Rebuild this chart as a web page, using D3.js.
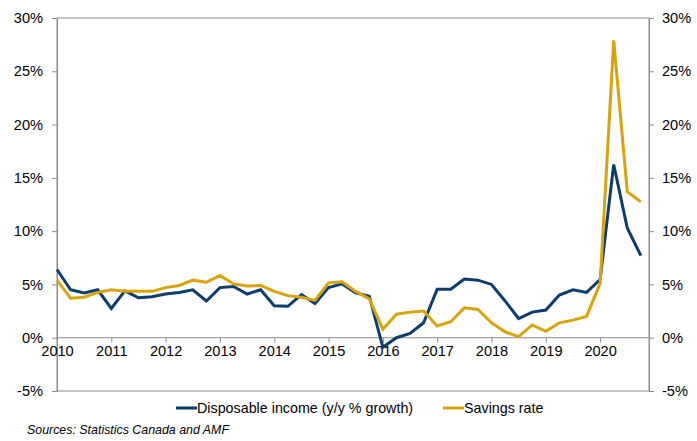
<!DOCTYPE html>
<html>
<head>
<meta charset="utf-8">
<script src="https://cdn.jsdelivr.net/npm/d3@7"></script>
<style>
  body { margin: 0; background: #fff; }
  svg text { font-family: "Liberation Sans", Arial, sans-serif; fill: #000; }
  .axis path, .axis line { stroke: #8c8c8c; }
</style>
</head>
<body>
<div class="chart"></div>
<script>
var svgWidth = 697;
var svgHeight = 441;

var margin = { top: 18, right: 48, bottom: 50, left: 57 };
var width = 649 - margin.left;
var height = 391 - margin.top;

// Quarterly data, 2010 Q1 to 2020 Q4
var years = ["2010", "2011", "2012", "2013", "2014", "2015", "2016", "2017", "2018", "2019", "2020"];
var disposableIncome = [6.4, 4.5, 4.2, 4.5, 2.75, 4.4, 3.75, 3.85, 4.1, 4.25, 4.5, 3.45,
  4.7, 4.8, 4.1, 4.5, 3.0, 2.95, 4.05, 3.2, 4.7, 5.05, 4.2, 3.9,
  -0.9, 0.0, 0.4, 1.4, 4.55, 4.55, 5.5, 5.4, 5.0, 3.45, 1.8, 2.4,
  2.6, 4.0, 4.5, 4.25, 5.45, 16.25, 10.3, 7.7];
var savingsRate = [5.4, 3.7, 3.8, 4.25, 4.5, 4.35, 4.35, 4.35, 4.7, 4.9, 5.4, 5.2,
  5.85, 5.05, 4.85, 4.9, 4.35, 3.95, 3.8, 3.5, 5.15, 5.25, 4.35, 3.65,
  0.8, 2.2, 2.4, 2.5, 1.1, 1.5, 2.8, 2.65, 1.4, 0.55, 0.1, 1.2,
  0.6, 1.4, 1.65, 2.0, 5.1, 27.9, 13.7, 12.75];
var yTicks = [-5, 0, 5, 10, 15, 20, 25, 30];

var series = [
  { name: "Disposable income (y/y % growth)", values: disposableIncome, color: "#0b3d6e" },
  { name: "Savings rate", values: savingsRate, color: "#d9a40b" }
];

var svg = d3.select(".chart")
  .append("svg")
  .attr("width", svgWidth)
  .attr("height", svgHeight);

var chartGroup = svg.append("g")
  .attr("transform", `translate(${margin.left}, ${margin.top})`);

var xScale = d3.scaleLinear().domain([0, 43.6]).range([0, width]);
var yScale = d3.scaleLinear().domain([-5, 30]).range([height, 0]);

// plot border
chartGroup.append("rect")
  .attr("width", width)
  .attr("height", height)
  .attr("fill", "none")
  .attr("stroke", "#8c8c8c")
  .attr("stroke-width", 1);

// left axis
var leftAxis = d3.axisLeft(yScale).tickValues(yTicks).tickSize(5).tickPadding(9)
  .tickFormat(d => d + "%");
chartGroup.append("g").attr("class", "axis").call(leftAxis)
  .call(g => g.selectAll("text").style("font-size", "14.6px"));

// right axis
var rightAxis = d3.axisRight(yScale).tickValues(yTicks).tickSize(5).tickPadding(8)
  .tickFormat(d => d + "%");
chartGroup.append("g").attr("class", "axis")
  .attr("transform", `translate(${width}, 0)`)
  .call(rightAxis)
  .call(g => g.selectAll("text").style("font-size", "14.6px"));

// x axis on zero line
var xAxis = d3.axisBottom(xScale)
  .tickValues(years.map((y, i) => i * 4))
  .tickSize(5).tickPadding(3)
  .tickFormat((d, i) => years[i]);
chartGroup.append("g").attr("class", "axis")
  .attr("transform", `translate(0, ${yScale(0)})`)
  .call(xAxis)
  .call(g => g.select(".domain").attr("d", `M0,0H${width}`))
  .call(g => g.selectAll("text").style("font-size", "14.6px"));

// lines
var line = d3.line()
  .x((d, i) => xScale(i))
  .y(d => yScale(d));

series.forEach(function(s) {
  chartGroup.append("path")
    .datum(s.values)
    .attr("fill", "none")
    .attr("stroke", s.color)
    .attr("stroke-width", 3)
    .attr("stroke-linejoin", "miter")
    .attr("d", line);
});

// legend
var legendX = [176, 443];
var legend = svg.selectAll(".legend")
  .data(series)
  .enter()
  .append("g")
  .attr("transform", (d, i) => `translate(${legendX[i]}, 408)`);
legend.append("line")
  .attr("x1", 0).attr("x2", 21)
  .attr("stroke", d => d.color)
  .attr("stroke-width", 3);
legend.append("text")
  .attr("x", 21)
  .attr("dy", "0.35em")
  .style("font-size", "14.3px")
  .text(d => d.name);

// source
svg.append("text")
  .attr("x", 27)
  .attr("y", 434)
  .style("font-size", "12.4px")
  .style("font-style", "italic")
  .text("Sources: Statistics Canada and AMF");
</script>
</body>
</html>
